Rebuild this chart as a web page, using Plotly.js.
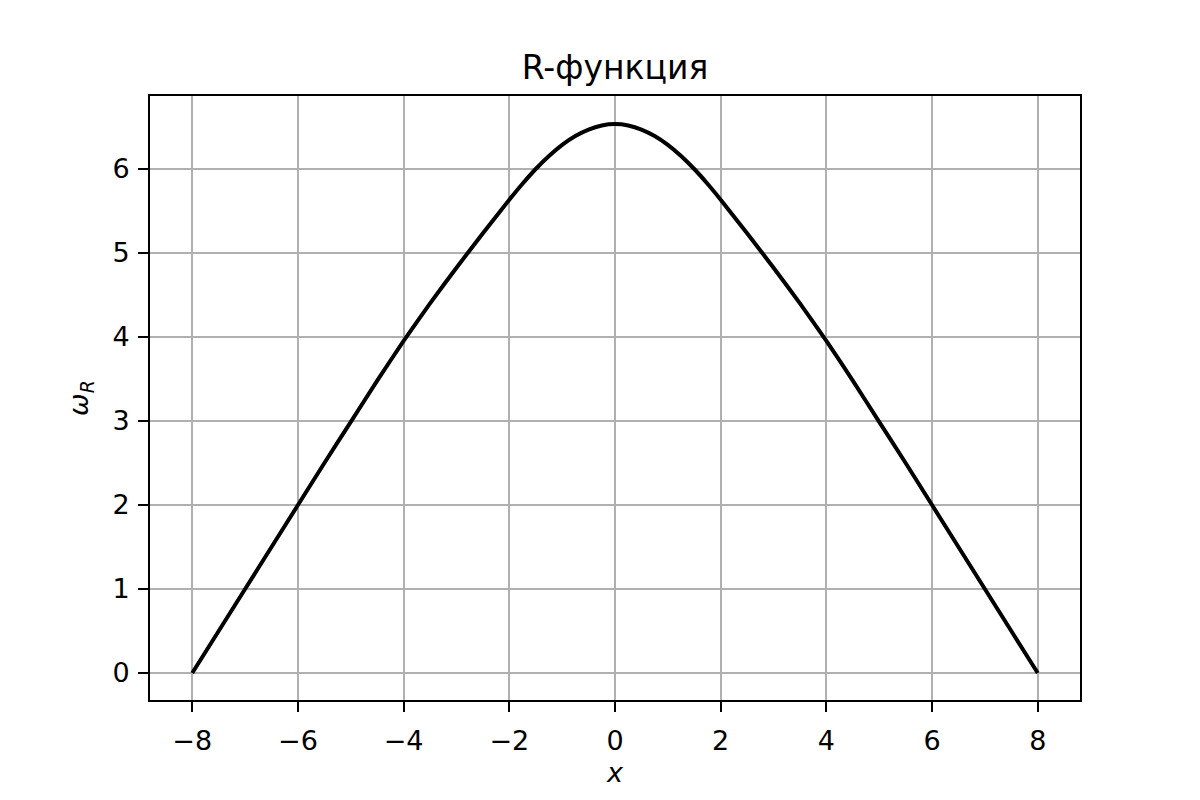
<!DOCTYPE html>
<html>
<head>
<meta charset="utf-8">
<script src="https://cdn.plot.ly/plotly-3.0.1.min.js"></script>
<style>html,body{margin:0;padding:0;background:#fff;}#chart{width:1200px;height:800px;}</style>
</head>
<body>
<div id="chart"></div>
<script>
// Values
const xValues = [-8, -7.5, -7, -6.5, -6, -5.5, -5, -4.5, -4, -3.5, -3, -2.5, -2, -1.75, -1.5, -1.25, -1, -0.75, -0.5, -0.25,
                 0, 0.25, 0.5, 0.75, 1, 1.25, 1.5, 1.75, 2, 2.5, 3, 3.5, 4, 4.5, 5, 5.5, 6, 6.5, 7, 7.5, 8];
const omegaR = [0, 0.5, 1.0, 1.5, 2.0, 2.5, 2.99, 3.48, 3.955, 4.40, 4.825, 5.235, 5.635, 5.825, 6.0, 6.155, 6.288, 6.393, 6.47, 6.518,
                6.535, 6.518, 6.47, 6.393, 6.288, 6.155, 6.0, 5.825, 5.635, 5.235, 4.825, 4.40, 3.955, 3.48, 2.99, 2.5, 2.0, 1.5, 1.0, 0.5, 0];
const xTicks = [-8, -6, -4, -2, 0, 2, 4, 6, 8];
const yTicks = [0, 1, 2, 3, 4, 5, 6];
const titleText = 'R-функция';
const xLabel = '<i>x</i>';
const yLabel = '<i>ω</i><sub><i>R</i></sub>';

const font = 'DejaVu Sans, sans-serif';

const trace = {
  x: xValues, y: omegaR, type: 'scatter', mode: 'lines',
  line: {color: '#000000', width: 4, shape: 'spline', smoothing: 0.5},
  showlegend: false, hoverinfo: 'skip'
};

const axisCommon = {
  showline: true, linecolor: '#000', linewidth: 2, mirror: true,
  showgrid: true, gridcolor: '#b0b0b0', gridwidth: 2,
  zeroline: false, ticks: 'outside', ticklen: 10, tickwidth: 2, tickcolor: '#000',
  tickfont: {family: font, size: 27, color: '#000'}
};

const layout = {
  width: 1200, height: 800,
  paper_bgcolor: '#fff', plot_bgcolor: '#fff',
  margin: {l: 150, r: 120, t: 96, b: 100},
  title: {text: titleText, font: {family: font, size: 33, color: '#000'},
          x: 0.5125, xanchor: 'center', y: 0.916, yanchor: 'middle'},
  xaxis: Object.assign({}, axisCommon, {
    range: [-8.8, 8.8], tickmode: 'array', tickvals: xTicks,
    ticklabelstandoff: 6,
    title: {text: xLabel, font: {family: font, size: 27, color: '#000'}, standoff: 8}
  }),
  yaxis: Object.assign({}, axisCommon, {
    range: [-0.321, 6.869], tickmode: 'array', tickvals: yTicks,
    ticklabelstandoff: 3,
    title: {text: yLabel, font: {family: font, size: 27, color: '#000'}, standoff: 16}
  })
};

Plotly.newPlot('chart', [trace], layout, {displayModeBar: false, staticPlot: true});
</script>
</body>
</html>
